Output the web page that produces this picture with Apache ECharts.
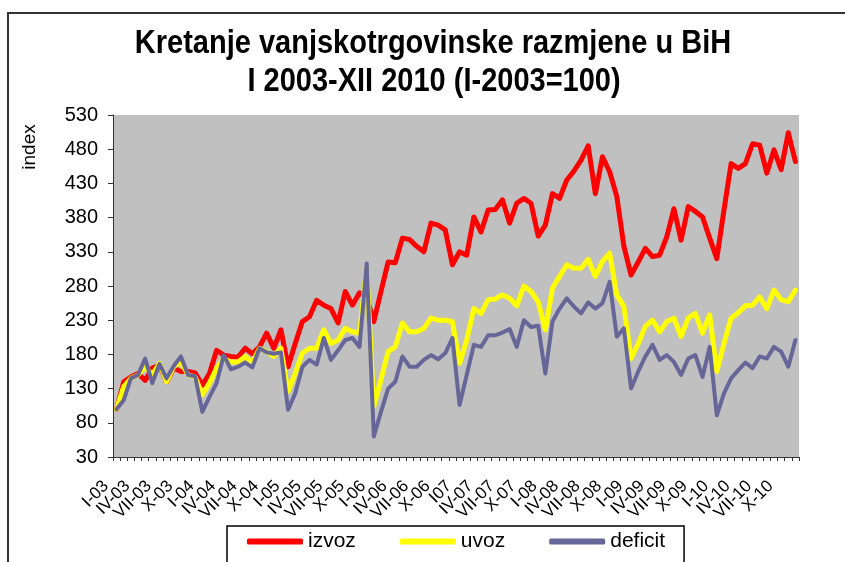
<!DOCTYPE html>
<html><head><meta charset="utf-8">
<script src="https://cdn.jsdelivr.net/npm/echarts@6/dist/echarts.min.js"></script>
<style>html,body{margin:0;padding:0;background:#fff}#c{width:845px;height:562px}</style>
</head><body><div id="c"></div>
<script>
const categories = [
'I-03','II-03','III-03','IV-03','V-03','VI-03','VII-03','VIII-03','IX-03','X-03','XI-03','XII-03',
'I-04','II-04','III-04','IV-04','V-04','VI-04','VII-04','VIII-04','IX-04','X-04','XI-04','XII-04',
'I-05','II-05','III-05','IV-05','V-05','VI-05','VII-05','VIII-05','IX-05','X-05','XI-05','XII-05',
'I-06','II-06','III-06','IV-06','V-06','VI-06','VII-06','VIII-06','IX-06','X-06','XI-06','XII-06',
'I07','II-07','III-07','IV-07','V-07','VI-07','VII-07','VIII-07','IX-07','X-07','XI-07','XII-07',
'I-08','II-08','III-08','IV-08','V-08','VI-08','VII-08','VIII-08','IX-08','X-08','XI-08','XII-08',
'I-09','II-09','III-09','IV-09','V-09','VI-09','VII-09','VIII-09','IX-09','X-09','XI-09','XII-09',
'I-10','II-10','III-10','IV-10','V-10','VI-10','VII-10','VIII-10','IX-10','X-10','XI-10','XII-10'
];
const izvoz = [
100,140,147,152,142,160,164,140,160,155,155,153,
135,152,186,179,177,176,189,181,191,211,189,216,
162,196,228,235,259,252,247,226,272,252,270,262,
228,272,315,314,350,348,338,330,372,369,362,311,
330,325,381,359,391,392,406,372,401,408,401,353,
369,415,408,435,448,464,485,415,469,447,411,338,
296,315,335,323,325,352,393,347,396,389,381,350,
320,391,459,452,459,488,486,445,479,450,504,462
];
const uvoz = [
100,133,145,150,162,150,167,140,162,169,150,147,
121,138,160,174,169,169,177,168,189,184,177,189,
126,152,182,189,189,216,196,201,218,213,211,306,
104,143,184,191,226,213,213,218,233,230,230,228,
167,201,247,240,260,261,267,262,251,280,272,257,
216,277,294,311,306,306,319,294,316,328,267,250,
174,196,221,230,213,228,233,206,233,240,211,238,
155,196,233,241,251,252,264,247,274,260,257,274
];
const deficit = [
100,113,145,150,174,138,166,145,163,177,150,148,
96,118,138,179,158,162,168,161,189,183,181,183,
99,123,162,172,165,204,172,186,201,204,191,313,
60,96,130,140,177,162,162,172,179,173,182,204,
106,150,194,191,208,208,212,217,191,230,220,222,
152,228,247,262,250,240,256,247,255,286,206,218,
130,155,177,194,172,179,169,150,174,179,147,191,
91,123,145,157,168,160,177,174,191,184,162,201
];
const yTicks = [30,80,130,180,230,280,330,380,430,480,530];
const titleLines = ['Kretanje vanjskotrgovinske razmjene u BiH','I 2003-XII 2010 (I-2003=100)'];
const seriesNames = ['izvoz','uvoz','deficit'];
const yAxisName = 'index';
const labelEvery = 3;

const FONT = '"Liberation Sans", Arial, sans-serif';
const chart = echarts.init(document.getElementById('c'));
const mk = (name, data, color, width, z) => ({
  name, type:'line', data, showSymbol:false, symbol:'none', z,
  lineStyle:{color, width, cap:'round', join:'round'}, itemStyle:{color},
  emphasis:{disabled:true}
});
chart.setOption({
  animation:false,
  backgroundColor:'#fff',
  grid:{left:113, right:46, top:115, bottom:105, show:true, backgroundColor:'#C0C0C0', borderWidth:0, outerBoundsMode:'none'},
  graphic:[
    {type:'rect', shape:{x:8,y:13,width:900,height:600}, style:{fill:'none', stroke:'#333', lineWidth:2}, z:-1},
    {type:'text', x:433, y:44, scaleY:1.12, style:{text:titleLines[0], font:'bold 29px '+FONT, fill:'#000', textAlign:'center', textVerticalAlign:'middle'}},
    {type:'text', x:434, y:82, scaleY:1.12, style:{text:titleLines[1], font:'bold 29px '+FONT, fill:'#000', textAlign:'center', textVerticalAlign:'middle'}},
    {type:'text', x:30, y:147, rotation:Math.PI/2, style:{text:yAxisName, font:'19px '+FONT, fill:'#000', textAlign:'center', textVerticalAlign:'middle'}}
  ],
  legend:{
    data:seriesNames, left:227, top:526, orient:'horizontal',
    icon:'roundRect', itemWidth:56, itemHeight:6, itemGap:44,
    padding:[5,19,40,20], borderColor:'#000', borderWidth:1.5,
    textStyle:{fontSize:21, fontFamily:FONT, color:'#000'}
  },
  xAxis:{
    type:'category', data:categories, boundaryGap:true,
    axisLine:{show:true, lineStyle:{color:'#333', width:1}},
    axisTick:{show:true, interval:0, length:4, lineStyle:{color:'#333'}},
    axisLabel:{interval:0, rotate:45, fontSize:17, fontFamily:FONT, color:'#000', margin:16, padding:[0,15,0,0],
      formatter:(v, i) => (i % labelEvery === 0 ? v : '')},
    splitLine:{show:false}
  },
  yAxis:{
    type:'value', min:30, max:530,
    axisLine:{show:true, lineStyle:{color:'#333', width:1}},
    axisTick:{show:true, length:5, customValues:yTicks, lineStyle:{color:'#333'}},
    axisLabel:{customValues:yTicks, fontSize:20, fontFamily:FONT, color:'#000', margin:15},
    splitLine:{show:false}
  },
  series:[
    mk(seriesNames[0], izvoz, '#FF0000', 5, 2),
    mk(seriesNames[1], uvoz, '#FFFF00', 5, 3),
    mk(seriesNames[2], deficit, '#666699', 4, 4)
  ]
});
</script></body></html>
